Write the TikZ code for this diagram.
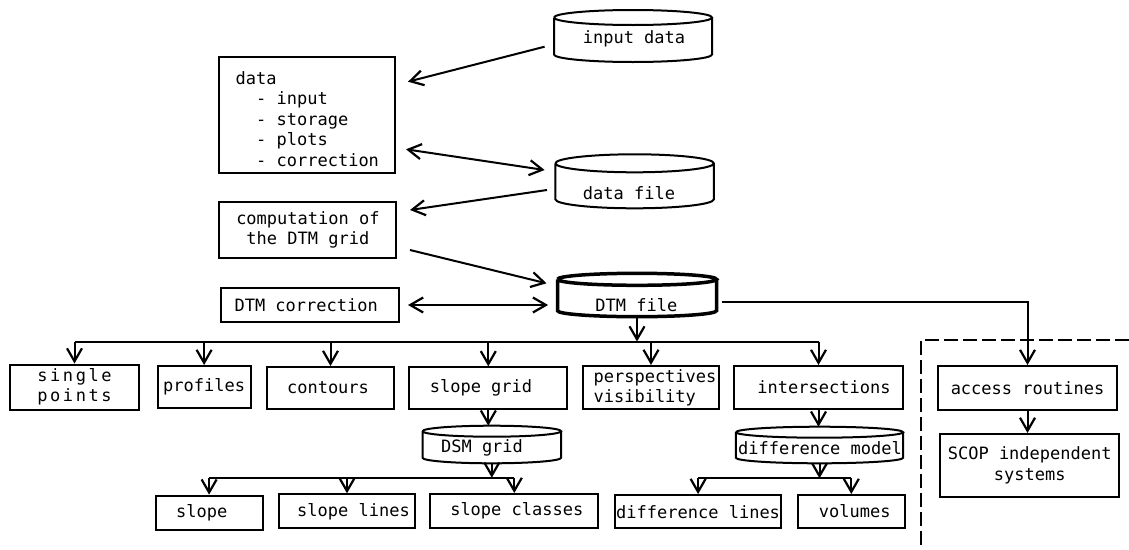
\documentclass[tikz,border=0pt]{standalone}
\usepackage{fontspec}
\setmainfont{DejaVu Sans Mono}
\newfontfamily\spacedfont[LetterSpace=15]{DejaVu Sans Mono}
\usetikzlibrary{arrows.meta,calc}
\tikzset{
  lbl/.style={font=\fontsize{17pt}{20.5pt}\selectfont, inner sep=0pt, align=center},
  box/.style={lbl, draw, line width=2pt},
  frame/.style={inner sep=0pt, outer sep=0pt},
  cylline/.style={line width=2pt},
  tip/.tip={Straight Barb[length=13pt,width=15pt,line width=2.2pt]},
  link/.style={line width=2pt},
  arr/.style={line width=2pt, -tip},
  darr/.style={line width=2pt, tip-tip},
  dashline/.style={line width=2pt, dash pattern=on 14pt off 5pt}
}
\newcommand\cylframe[3][]{%
  \draw[cylline,#1] let \p1=(#2.north west), \p2=(#2.south east), \n1={(\x2-\x1)/2} in
    (\x1,\y1-#3) arc[start angle=180, delta angle=360, x radius=\n1, y radius=#3]
    (\x1,\y1-#3) -- (\x1,\y2+#3) arc[start angle=180, delta angle=180, x radius=\n1, y radius=#3] -- (\x2,\y1-#3);}
\begin{document}
\begin{tikzpicture}[x=1pt,y=1pt]
\useasboundingbox (0,0) rectangle (1129,-549);

% cylinders (frames + texts)
\node[frame, minimum width=158pt, minimum height=52pt] (input) at (633,-36) {};
\cylframe{input}{7.5pt}
\node[lbl] (input-t) at (634,-39.3) {input data};

\node[frame, minimum width=158.4pt, minimum height=54pt] (datafile) at (634.6,-181.3) {};
\cylframe{datafile}{9pt}
\node[lbl] (datafile-t) at (629,-192.7) {data file};

\node[frame, minimum width=159pt, minimum height=43.4pt] (dtm) at (637,-295) {};
\cylframe[line width=3.5pt]{dtm}{6pt}
\node[lbl] (dtm-t) at (636.4,-305) {DTM file};

\node[frame, minimum width=138.5pt, minimum height=37.6pt] (dsm) at (491.8,-444.5) {};
\cylframe{dsm}{5.5pt}
\node[lbl] (dsm-t) at (482,-448.3) {DSM grid};

\node[frame, minimum width=167.2pt, minimum height=36.6pt] (diff) at (819.5,-445) {};
\cylframe{diff}{5.5pt}
\node[lbl] (diff-t) at (820,-448.3) {difference model};

% upper boxes
\node[box, minimum width=176pt, minimum height=116pt] (datab) at (306.6,-114.7) {};
\node[lbl, align=left, anchor=west] (datab-t) at (235.5,-119) {data\\\phantom{dd}- input\\\phantom{dd}- storage\\\phantom{dd}- plots\\\phantom{dd}- correction};
\node[box, minimum width=177pt, minimum height=56pt] (compb) at (307.9,-229.7) {computation of\\the DTM grid};
\node[box, minimum width=177.6pt, minimum height=34pt] (corrb) at (310.2,-304.7) {DTM correction\hspace*{8pt}};

% row 1
\node[box, minimum width=129pt, minimum height=45pt] (sp) at (74.5,-387) {\spacedfont single\\\spacedfont points};
\node[box, minimum width=93.2pt, minimum height=42pt] (prof) at (204.1,-387) {profiles};
\node[box, minimum width=127.5pt, minimum height=42pt] (cont) at (330.5,-388) {contours\hspace*{5pt}};
\node[box, minimum width=158pt, minimum height=42pt] (sg) at (488.3,-388.3) {slope grid\hspace*{14.6pt}};
\node[box, minimum width=135.2pt, minimum height=43.3pt, align=left] (persp) at (651,-387.6) {\hspace*{8pt}perspectives\\\hspace*{8pt}visibility};
\node[box, minimum width=169.2pt, minimum height=43pt] (inter) at (818.5,-387.5) {\hspace*{11pt}intersections};
\node[box, minimum width=179pt, minimum height=44pt] (acc) at (1027.5,-388) {access routines};
\node[box, minimum width=178.6pt, minimum height=62.7pt] (scop) at (1029.7,-465.3) {SCOP independent\\systems};

% row 2
\node[box, minimum width=106.8pt, minimum height=34.3pt] (slope) at (209.1,-512.8) {slope\hspace*{14.6pt}};
\node[box, minimum width=136.8pt, minimum height=34pt] (slopel) at (347,-511.3) {\hspace*{13pt}slope lines};
\node[box, minimum width=167.9pt, minimum height=34pt] (slopec) at (514.3,-511) {\hspace*{5pt}slope classes};
\node[box, minimum width=165.3pt, minimum height=33.3pt] (diffl) at (698.1,-511.7) {difference lines};
\node[box, minimum width=107.5pt, minimum height=33pt] (vol) at (851.3,-511.5) {\hspace*{7pt}volumes};

% upper connectors
\draw[arr] ([xshift=-9.4pt,yshift=-10.7pt]input.west) -- ([xshift=12.4pt,yshift=33pt]datab.east);
\draw[darr] ([xshift=10.4pt,yshift=-34.6pt]datab.east) -- ([xshift=-10.8pt,yshift=11.3pt]datafile.west);
\draw[arr] ([xshift=-8.4pt,yshift=-8.7pt]datafile.west) -- ([xshift=12.6pt,yshift=19.7pt]compb.east);
\draw[arr] ([xshift=12.6pt,yshift=-20.3pt]compb.east) -- ([xshift=-11pt,yshift=11.7pt]dtm.west);
\draw[darr] ([xshift=8pt,yshift=-0.3pt]corrb.east) -- ([xshift=-9.4pt,yshift=-10pt]dtm.west);

% bus 1
\coordinate (b1) at (0,-341.5);
\draw[link] (sp.north |- b1) -- (inter.north |- b1);
\draw[arr] (dtm.south) -- (dtm.south |- b1);
\foreach \n in {sp,prof,cont,sg,persp,inter}
  \draw[arr] (\n.north |- b1) -- (\n.north);

% to access routines
\draw[arr] ([xshift=5pt,yshift=-6.7pt]dtm.east) -| (acc.north);
\draw[arr] (acc.south) -- (acc.south |- scop.north);

% slope grid branch
\draw[arr] (sg.south) -- (sg.south |- dsm.north);
\coordinate (b2) at (0,-477.7);
\draw[link] (slope.north |- b2) -- (slopec.north |- b2);
\draw[arr] (dsm.south) -- (dsm.south |- b2);
\foreach \n in {slope,slopel,slopec}
  \draw[arr] (\n.north |- b2) -- (\n.north);

% intersections branch
\draw[arr] (inter.south) -- (inter.south |- diff.north);
\coordinate (b3) at (0,-478.3);
\draw[link] (diffl.north |- b3) -- (vol.north |- b3);
\draw[arr] (diff.south) -- (diff.south |- b3);
\foreach \n in {diffl,vol}
  \draw[arr] (\n.north |- b3) -- (\n.north);

% dashed boundary
\draw[dashline] (1129,-340) -- (921,-340) -- (921,-549);
\end{tikzpicture}
\end{document}
